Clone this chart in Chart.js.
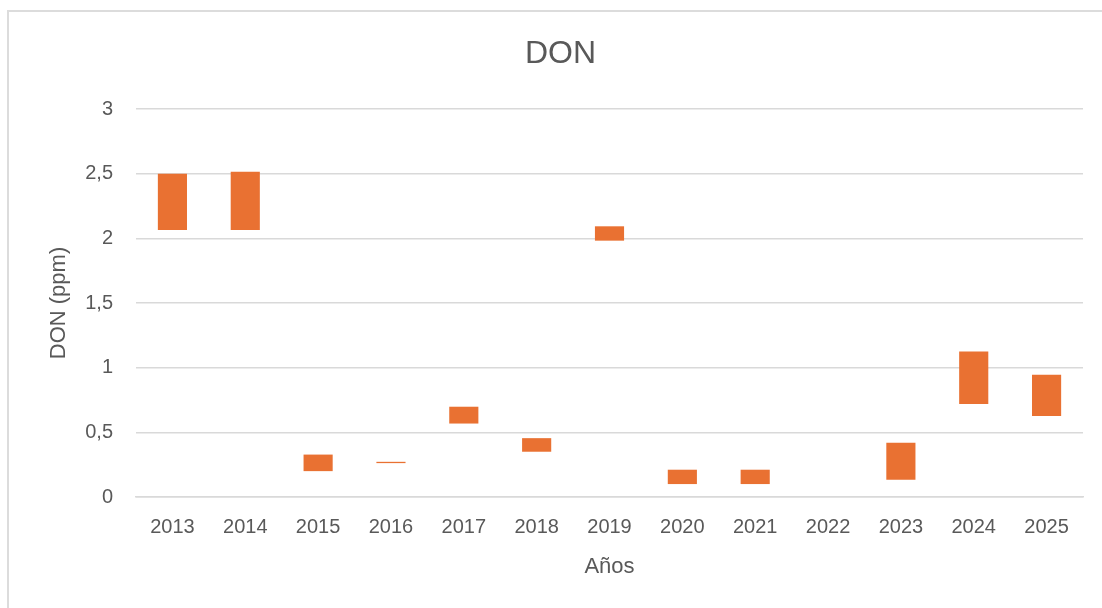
<!DOCTYPE html>
<html>
<head>
<meta charset="utf-8">
<script src="https://cdn.jsdelivr.net/npm/chart.js@4"></script>
<style>
  html, body { margin: 0; padding: 0; background: #fff; }
  body { width: 1102px; height: 608px; overflow: hidden; position: relative; }
  .frame { position: absolute; left: 7px; top: 10px; width: 1200px; height: 700px; border: 2px solid #dcdcdc; }
  .wrap { position: absolute; left: 0; top: 0; width: 1102px; height: 608px; }
</style>
</head>
<body>
<div class="frame"></div>
<div class="wrap"><canvas id="donChart" width="1102" height="608"></canvas></div>
<script>
// DON range per year (ppm): lower and upper value of each floating bar
var years = ['2013', '2014', '2015', '2016', '2017', '2018', '2019', '2020', '2021', '2022', '2023', '2024', '2025'];
var lows  = [2.065, 2.065, 0.20, 0.262, 0.568, 0.35, 1.982, 0.10, 0.10, null, 0.134, 0.72, 0.627];
var highs = [2.50,  2.515, 0.328, 0.272, 0.698, 0.455, 2.093, 0.211, 0.211, null, 0.42, 1.125, 0.946];
var yTickLabels = ['0', '0,5', '1', '1,5', '2', '2,5', '3'];

document.addEventListener('DOMContentLoaded', function () {
  var ranges = years.map(function (y, i) {
    return lows[i] === null ? null : [lows[i], highs[i]];
  });

  var font = "'Liberation Sans', Arial, sans-serif";
  var grey = '#595959';

  var ctx = document.getElementById('donChart').getContext('2d');
  new Chart(ctx, {
    type: 'bar',
    data: {
      labels: years,
      datasets: [{
        label: 'DON',
        data: ranges,
        backgroundColor: '#E97132',
        borderWidth: 0,
        barPercentage: 1,
        categoryPercentage: 0.4
      }]
    },
    options: {
      responsive: false,
      animation: false,
      // left padding only pushes the centred title over to the right
      layout: { padding: { left: 38, right: 19, top: 0, bottom: 0 } },
      plugins: {
        legend: { display: false },
        tooltip: { enabled: false },
        title: {
          display: true,
          text: 'DON',
          color: grey,
          font: { family: font, size: 32, weight: 'normal', lineHeight: 1.2 },
          padding: { top: 35, bottom: 35.6 }
        }
      },
      scales: {
        x: {
          afterFit: function (scale) { scale.height = 111; },
          grid: { display: false, drawTicks: false },
          border: { display: true, color: '#d9d9d9', width: 1.5 },
          ticks: { color: grey, padding: 18, font: { family: font, size: 20 } },
          title: {
            display: true,
            text: 'Años',
            color: grey,
            font: { family: font, size: 22, lineHeight: 1.2 },
            padding: { top: 0, bottom: 28 }
          }
        },
        y: {
          min: 0,
          max: 3,
          afterFit: function (scale) { scale.width = 98; },
          grid: { color: '#d9d9d9', lineWidth: 1.5, drawTicks: false },
          border: { display: false },
          ticks: {
            stepSize: 0.5,
            color: grey,
            padding: 23,
            font: { family: font, size: 20 },
            callback: function (v, i) { return yTickLabels[i]; }
          },
          title: {
            display: true,
            text: 'DON (ppm)',
            color: grey,
            font: { family: font, size: 22, lineHeight: 1.2 },
            padding: { top: 8, bottom: 0 }
          }
        }
      }
    }
  });
});
</script>
</body>
</html>
